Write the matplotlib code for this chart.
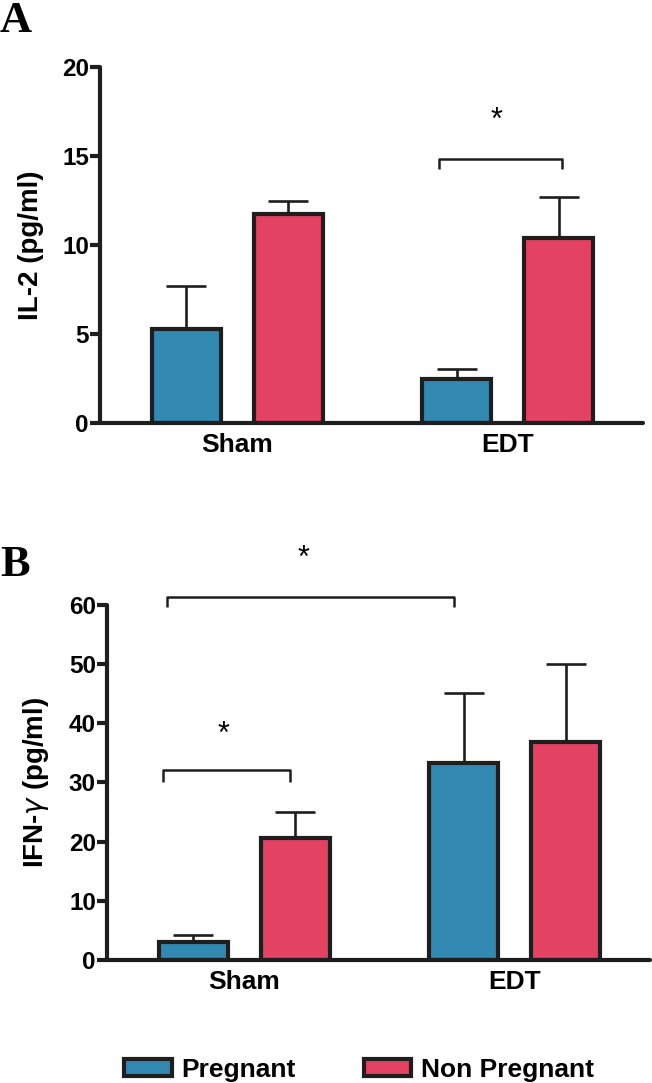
import matplotlib
matplotlib.use('Agg')
import matplotlib.pyplot as plt
from matplotlib.patches import Patch
import numpy as np

plt.rcParams['font.family'] = ['Liberation Sans', 'DejaVu Sans']
plt.rcParams['mathtext.fontset'] = 'dejavusans'

groups = ['Sham', 'EDT']
series = ['Pregnant', 'Non Pregnant']
colors = ['#3289B1', '#E34263']

il2_preg = [5.3, 2.5]
il2_preg_err = [2.4, 0.55]
il2_nonpreg = [11.75, 10.4]
il2_nonpreg_err = [0.7, 2.3]

ifn_preg = [3.1, 33.3]
ifn_preg_err = [1.1, 11.9]
ifn_nonpreg = [20.6, 36.9]
ifn_nonpreg_err = [4.4, 13.1]

fig = plt.figure(figsize=(6.52, 10.83), dpi=100)
ax1 = fig.add_axes([0.1534, 0.6094, 0.8328, 0.3287])
ax2 = fig.add_axes([0.1641, 0.1136, 0.8328, 0.3278])

x = np.arange(len(groups))
off = 0.189
w = 0.255
edge = '#1e1e1e'


def draw(ax, vals, errs, ymax, step, ylabel):
    for i, (v, e) in enumerate(zip(vals, errs)):
        pos = x + (2 * i - 1) * off
        ax.errorbar(pos, v, yerr=[np.zeros(len(v)), e], fmt='none', ecolor=edge,
                    elinewidth=1.9, capsize=14.5, capthick=1.9, zorder=1)
        ax.bar(pos, v, width=w, color=colors[i], edgecolor=edge, linewidth=3,
               zorder=2)
    ax.set_xlim(-0.508, 1.5)
    ax.set_ylim(0, ymax)
    ax.set_yticks(np.arange(0, ymax + 1, step))
    ax.set_xticks(x)
    ax.set_xticklabels(groups)
    for s in ['top', 'right']:
        ax.spines[s].set_visible(False)
    for s in ['left', 'bottom']:
        ax.spines[s].set_linewidth(3)
        ax.spines[s].set_color(edge)
        ax.spines[s].set_capstyle('round')
    ax.tick_params(axis='y', length=7, width=3, color=edge, pad=1,
                   labelsize=17.5)
    ax.tick_params(axis='x', length=0, pad=7, labelsize=19)
    for lb in ax.get_xticklabels() + ax.get_yticklabels():
        lb.set_fontweight('bold')
    ax.set_ylabel(ylabel, fontsize=20, fontweight='bold', labelpad=13)


def bracket(ax, x0, x1, y, leg, sx, sy):
    ax.plot([x0, x0, x1, x1], [y - leg, y, y, y - leg], color=edge, lw=1.8,
            clip_on=False, solid_capstyle='butt')
    ax.text(sx, sy, '*', ha='center', va='center', fontsize=22, clip_on=False)


draw(ax1, [il2_preg, il2_nonpreg], [il2_preg_err, il2_nonpreg_err], 20, 5,
     'IL-2 (pg/ml)')
draw(ax2, [ifn_preg, ifn_nonpreg], [ifn_preg_err, ifn_nonpreg_err], 60, 10,
     r'IFN-$\gamma$ (pg/ml)')

bracket(ax1, 0.745, 1.2, 14.83, 0.55, 0.959, 17.0)
bracket(ax2, -0.30, 0.167, 32.1, 2.0, -0.078, 38.0)
bracket(ax2, -0.285, 0.774, 61.4, 1.8, 0.219, 67.8)

fig.text(0.0, 0.999, 'A', family='Liberation Serif', fontweight='bold',
         fontsize=32, va='top', ha='left')
fig.text(0.0, 0.497, 'B', family='Liberation Serif', fontweight='bold',
         fontsize=32, va='top', ha='left')

handles = [Patch(facecolor=c, edgecolor=edge, linewidth=3) for c in colors]
fig.legend(handles, series, loc='center left',
           bbox_to_anchor=(111 / 652, 1 - 1070 / 1083), borderpad=0,
           ncol=2, frameon=False, handlelength=1.8, handleheight=0.6,
           handletextpad=0.35, columnspacing=2.6,
           prop={'size': 19, 'weight': 'bold'})

fig.savefig('out.png', dpi=100)
